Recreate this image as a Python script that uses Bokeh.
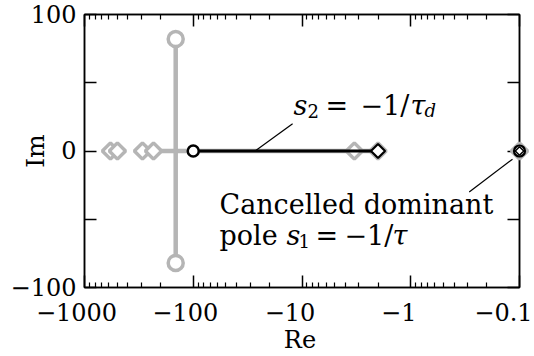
import math
from bokeh.plotting import figure
from bokeh.models import Range1d, FixedTicker, LogAxis, LinearAxis, Label
from bokeh.core.properties import value
from bokeh.embed import file_html
from bokeh.resources import INLINE

FONT = "DejaVu Serif"
GRAY = "#b5b5b5"

# ---------------- data (complex plane: Re, Im) ----------------
gray_zero_re = [-577.0, -498.0, -293.0, -232.0, -3.3, -2.0, -0.1]
gray_zero_im = [0.0, 0.0, 0.0, 0.0, 0.0, 0.0, 0.0]
gray_pole_re = [-145.0, -145.0]
gray_pole_im = [82.0, -82.0]
gray_real_branch_re = [-232.0, -2.0]
gray_real_branch_im = [0.0, 0.0]
gray_complex_branch_re = [-145.0, -145.0]
gray_complex_branch_im = [82.0, -82.0]
black_branch_re = [-100.0, -2.0]
black_branch_im = [0.0, 0.0]
black_pole_re = [-100.0]
black_pole_im = [0.0]
black_zero_re = [-2.0]
black_zero_im = [0.0]
cancel_re = [-0.1]
cancel_im = [0.0]

x_ticks = [-1000, -100, -10, -1, -0.1]
x_tick_labels = ["\u22121000", "\u2212100", "\u221210", "\u22121", "\u22120.1"]
y_ticks = [-100, -50, 0, 50, 100]
y_tick_labels = ["\u2212100", " ", "0", " ", "100"]

# annotation anchors (Re, Im)
s2_pointer_re = [-27.0, -12.2]
s2_pointer_im = [0.0, 20.0]
s1_pointer_re = [-0.29, -0.116]
s1_pointer_im = [-30.0, -6.0]
s2_label_re, s2_label_im = -12.0, 33.0
s1_label_re, s1_label_im1, s1_label_im2 = -57.4, -39.0, -62.0
x_tick_label_im = -117.6
x_title_re, x_title_im = -10.0, -138.5
y_title_re, y_title_im = -2822.0, 0.0


def mag(vals):
    return [-v for v in vals]


p = figure(width=534, height=356, x_axis_type="log",
           x_range=Range1d(1000, 0.1), y_range=Range1d(-100, 100),
           output_backend="svg", toolbar_location=None,
           min_border_left=84, min_border_right=15,
           min_border_top=14, min_border_bottom=69)
p.grid.visible = False
p.outline_line_color = "black"
p.outline_line_width = 1.5
p.background_fill_color = "white"
p.border_fill_color = "white"

minor = [m * 10.0 ** e for e in range(-1, 3) for m in range(2, 10)]
xt = FixedTicker(ticks=mag(x_ticks), minor_ticks=minor)
yt = FixedTicker(ticks=y_ticks, minor_ticks=[])


def style_axis(ax, minor_ticks=True):
    ax.axis_line_width = 1.5
    ax.axis_line_color = "black"
    ax.major_tick_line_width = 1.5
    ax.major_tick_line_color = "black"
    ax.major_tick_in = 12
    ax.major_tick_out = 0
    if minor_ticks:
        ax.minor_tick_line_width = 1.2
        ax.minor_tick_line_color = "black"
        ax.minor_tick_in = 5
        ax.minor_tick_out = 0
    else:
        ax.minor_tick_line_color = None


def hide_labels(ax):
    ax.major_label_text_font_size = "2px"
    ax.major_label_text_color = None
    ax.major_label_standoff = 0


bx = p.xaxis[0]
bx.ticker = xt
style_axis(bx)
hide_labels(bx)

ly = p.yaxis[0]
ly.ticker = yt
style_axis(ly, False)
ly.major_label_overrides = dict(zip(y_ticks, y_tick_labels))
ly.major_label_text_font = FONT
ly.major_label_text_font_size = "24px"
ly.major_label_text_color = "black"
ly.major_label_standoff = 8

top = LogAxis(ticker=FixedTicker(ticks=mag(x_ticks), minor_ticks=minor))
style_axis(top)
hide_labels(top)
p.add_layout(top, "above")

right = LinearAxis(ticker=FixedTicker(ticks=y_ticks, minor_ticks=[]))
style_axis(right, False)
hide_labels(right)
p.add_layout(right, "right")

# ---------------- glyphs ----------------
LV = "overlay"
p.line(mag(gray_real_branch_re), gray_real_branch_im, line_color=GRAY, line_width=4.5, level=LV)
p.line(mag(gray_complex_branch_re), gray_complex_branch_im, line_color=GRAY, line_width=4.5, level=LV)
p.scatter(mag(gray_pole_re), gray_pole_im, marker="circle", size=15,
          fill_color="white", line_color=GRAY, line_width=3.5, level=LV)
p.scatter(mag(gray_zero_re), gray_zero_im, marker="square", angle=math.pi / 4, size=11.5,
          fill_color="white", line_color=GRAY, line_width=3.5, level=LV)

p.line(mag(black_branch_re), black_branch_im, line_color="black", line_width=3, level=LV)
p.scatter(mag(black_pole_re), black_pole_im, marker="circle", size=11,
          fill_color="white", line_color="black", line_width=2.5, level=LV)
p.scatter(mag(black_zero_re), black_zero_im, marker="square", angle=math.pi / 4, size=10,
          fill_color="white", line_color="black", line_width=2.2, level=LV)
p.scatter(mag(cancel_re), cancel_im, marker="circle", size=11,
          fill_color=None, line_color="black", line_width=2.2, level=LV)
p.scatter(mag(cancel_re), cancel_im, marker="square", angle=math.pi / 4, size=6,
          fill_color=None, line_color="black", line_width=1.5, level=LV)

p.line(mag(s2_pointer_re), s2_pointer_im, line_color="black", line_width=1.2, level=LV)
p.line(mag(s1_pointer_re), s1_pointer_im, line_color="black", line_width=1.2, level=LV)

# ---------------- texts outside the frame (text glyphs, unclipped) ----------------
p.text(x=mag(x_ticks), y=[x_tick_label_im] * len(x_ticks), text=x_tick_labels,
       x_offset=[-8, -8, -12, -12, -16], text_font=value(FONT),
       text_font_size=value("24px"), text_color="black", text_align="center",
       text_baseline="alphabetic", level=LV)
p.text(x=[-x_title_re], y=[x_title_im], text=["Re"], x_offset=-2,
       text_font=value(FONT), text_font_size=value("24px"), text_color="black",
       text_align="center", text_baseline="alphabetic", level=LV)
p.text(x=[-y_title_re], y=[y_title_im], text=["Im"], angle=math.pi / 2,
       text_font=value(FONT), text_font_size=value("25px"), text_color="black",
       text_align="center", text_baseline="middle", level=LV)


# ---------------- annotation texts ----------------
def text(x, y, s, dx=0, dy=0, size="27px", style="normal"):
    p.add_layout(Label(x=x, y=y, x_offset=dx, y_offset=dy,
                       text=s, text_font=FONT, text_font_size=size,
                       text_font_style=style, text_color="black",
                       text_align="left", text_baseline="alphabetic"))


# s2 = -1/tau_d
sx, sy = -s2_label_re, s2_label_im
text(sx, sy, "s", style="italic")
text(sx, sy, "2", dx=14, dy=-5, size="18px")
text(sx, sy, "=", dx=32)
text(sx, sy, "\u22121/", dx=67)
text(sx, sy, "\u03c4", dx=117, style="italic")
text(sx, sy, "d", dx=131, dy=-5, size="18px", style="italic")

# Cancelled dominant pole s1 = -1/tau
cx = -s1_label_re
text(cx, s1_label_im1, "Cancelled dominant")
text(cx, s1_label_im2, "pole")
text(cx, s1_label_im2, "s", dx=67, style="italic")
text(cx, s1_label_im2, "1", dx=79, dy=-5, size="18px")
text(cx, s1_label_im2, "=", dx=96)
text(cx, s1_label_im2, "\u22121/", dx=125)
text(cx, s1_label_im2, "\u03c4", dx=173, style="italic")

open("out.html", "w").write(file_html(p, INLINE))
